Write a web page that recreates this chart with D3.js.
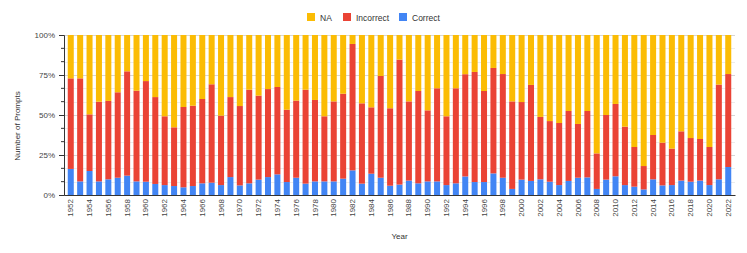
<!DOCTYPE html>
<html>
<meta charset="utf-8">
<script src="https://d3js.org/d3.v7.min.js"></script>
<head>
<style>
body { margin: 0; background: #fff; }
text { font-family: Arial, "Liberation Sans", sans-serif; }
</style>
</head>
<body>
<div id="chart"></div>
<script>

// years 1952 - 2022
var years = ["1952","1953","1954","1955","1956","1957","1958","1959","1960","1961",
  "1962","1963","1964","1965","1966","1967","1968","1969","1970","1971",
  "1972","1973","1974","1975","1976","1977","1978","1979","1980","1981",
  "1982","1983","1984","1985","1986","1987","1988","1989","1990","1991",
  "1992","1993","1994","1995","1996","1997","1998","1999","2000","2001",
  "2002","2003","2004","2005","2006","2007","2008","2009","2010","2011",
  "2012","2013","2014","2015","2016","2017","2018","2019","2020","2021","2022"];

// share of prompts, in %
var correct = [16.3,8.5,15.0,8.5,9.8,10.8,12.1,8.5,8.3,6.9,
  6.2,5.6,4.8,5.6,7.3,7.7,6.2,11.2,6.0,7.3,
  9.6,11.2,12.9,8.1,10.8,7.1,8.5,8.5,8.5,10.2,
  15.4,7.1,13.3,10.8,5.8,6.5,9.0,7.3,8.5,8.5,
  6.2,7.3,11.6,8.1,8.1,13.5,10.8,3.8,9.6,8.8,
  9.8,8.3,6.2,8.8,10.8,11.0,3.8,9.6,11.7,6.2,
  5.2,3.5,9.8,6.0,6.2,9.0,8.3,9.0,6.2,9.8,17.5];

var incorrect = [56.6,64.4,35.4,49.8,49.0,53.4,65.2,56.7,62.9,54.3,
  43.0,36.7,50.2,50.2,52.7,61.5,43.4,50.0,49.6,58.5,
  52.5,55.0,54.6,45.2,48.2,58.7,50.9,40.7,50.0,53.1,
  79.0,50.2,41.5,63.6,48.4,78.1,49.5,57.7,44.4,58.2,
  43.0,59.4,63.9,68.8,56.9,65.9,64.8,54.7,48.5,60.0,
  39.0,37.9,38.8,43.7,33.6,41.5,22.2,40.4,45.2,36.5,
  24.8,14.6,27.7,26.7,22.8,30.8,27.3,26.0,23.8,59.2,58.1];

var na = [27.1,27.1,49.6,41.7,41.2,35.8,22.7,34.8,28.8,38.8,
  50.8,57.7,45.0,44.2,40.0,30.8,50.4,38.8,44.4,34.2,
  37.9,33.8,32.5,46.7,41.0,34.2,40.6,50.8,41.5,36.7,
  5.6,42.7,45.2,25.6,45.8,15.4,41.5,35.0,47.1,33.3,
  50.8,33.3,24.5,23.1,35.0,20.6,24.4,41.5,41.9,31.2,
  51.2,53.8,55.0,47.5,55.6,47.5,74.0,50.0,43.1,57.3,
  70.0,81.9,62.5,67.3,71.0,60.2,64.4,65.0,70.0,31.0,24.4];

var seriesNames = ["Correct", "Incorrect", "NA"];
var yTicks = [0, 0.25, 0.5, 0.75, 1];

var width = 747,
    height = 253,
    margin = {top: 35, right: 12, bottom: 58, left: 64};

var svg = d3.select("#chart")
  .append("svg")
    .attr("width", width)
    .attr("height", height);

var color = d3.scaleOrdinal()
  .domain(seriesNames)
  .range(["#4285f4", "#ea4335", "#fbbc04"]);

// build rows for the stack
var rows = years.map(function(y, i) {
  var total = correct[i] + incorrect[i] + na[i];
  return {year: y, Correct: correct[i] / total, Incorrect: incorrect[i] / total, NA: na[i] / total};
});
var stacked = d3.stack().keys(seriesNames)(rows);

var x = d3.scaleBand()
  .domain(years)
  .range([margin.left, width - margin.right])
  .paddingInner(0.36)
  .paddingOuter(0.4);

var y = d3.scaleLinear()
  .domain([0, 1])
  .range([height - margin.bottom, margin.top]);

// gridlines, minor every 1/12
var minor = d3.range(0, 13).map(function(k) { return k / 12; });
svg.append("g")
  .selectAll("line")
  .data(minor)
  .enter()
  .append("line")
    .attr("x1", margin.left)
    .attr("x2", width - margin.right)
    .attr("y1", function(d) { return Math.round(y(d)) + 0.5; })
    .attr("y2", function(d) { return Math.round(y(d)) + 0.5; })
    .attr("stroke", function(d, i) { return i % 3 == 0 ? "#d6d6d6" : "#ececec"; })
    .attr("stroke-width", 1);

// bars
svg.append("g")
  .selectAll("g")
  .data(stacked)
  .enter()
  .append("g")
    .attr("fill", function(d) { return color(d.key); })
  .selectAll("rect")
  .data(function(d) { return d; })
  .enter()
  .append("rect")
    .attr("x", function(d) { return x(d.data.year); })
    .attr("y", function(d) { return y(d[1]); })
    .attr("width", x.bandwidth())
    .attr("height", function(d) { return y(d[0]) - y(d[1]); });

// y axis
var yAxis = d3.axisLeft(y)
  .tickValues(yTicks)
  .tickFormat(d3.format(".0%"))
  .tickSize(5)
  .tickPadding(4);

var yg = svg.append("g")
  .attr("transform", "translate(" + margin.left + ",0)")
  .call(yAxis);
yg.select(".domain").attr("stroke", "#333");
yg.selectAll(".tick line").attr("stroke", "#333");
yg.selectAll("text").attr("font-size", "8px").attr("fill", "#444");

// minor ticks on y axis
svg.append("g")
  .selectAll("line")
  .data(minor.filter(function(d, i) { return i % 3 != 0; }))
  .enter()
  .append("line")
    .attr("x1", margin.left - 3)
    .attr("x2", margin.left)
    .attr("y1", function(d) { return y(d); })
    .attr("y2", function(d) { return y(d); })
    .attr("stroke", "#333");

// x axis
var xAxis = d3.axisBottom(x)
  .tickValues(years.filter(function(d, i) { return i % 2 == 0; }))
  .tickSize(0)
  .tickPadding(4);

var xg = svg.append("g")
  .attr("transform", "translate(0," + (height - margin.bottom) + ")")
  .call(xAxis);
xg.select(".domain").attr("stroke", "#333");
xg.selectAll("text")
  .attr("font-size", "8px")
  .attr("fill", "#444")
  .attr("text-anchor", "end")
  .attr("dy", "0.32em")
  .attr("transform", "translate(0,4) rotate(-90)")
  .attr("x", 0)
  .attr("y", 0);

// axis titles
svg.append("text")
  .attr("transform", "translate(20,126) rotate(-90)")
  .attr("text-anchor", "middle")
  .attr("font-size", "8px")
  .attr("fill", "#333")
  .text("Number of Prompts");

svg.append("text")
  .attr("x", (margin.left + width - margin.right) / 2)
  .attr("y", 239)
  .attr("text-anchor", "middle")
  .attr("font-size", "8px")
  .attr("fill", "#333")
  .text("Year");

// legend
var legendItems = [
  {name: "NA", x: 307},
  {name: "Incorrect", x: 343},
  {name: "Correct", x: 399}
];
var lg = svg.append("g")
  .selectAll("g")
  .data(legendItems)
  .enter()
  .append("g")
    .attr("transform", function(d) { return "translate(" + d.x + ",13)"; });
lg.append("rect")
  .attr("width", 8)
  .attr("height", 8)
  .attr("fill", function(d) { return color(d.name); });
lg.append("text")
  .attr("x", 13)
  .attr("y", 7.5)
  .attr("font-size", "8.5px")
  .attr("fill", "#333")
  .text(function(d) { return d.name; });

</script>
</body>
</html>
